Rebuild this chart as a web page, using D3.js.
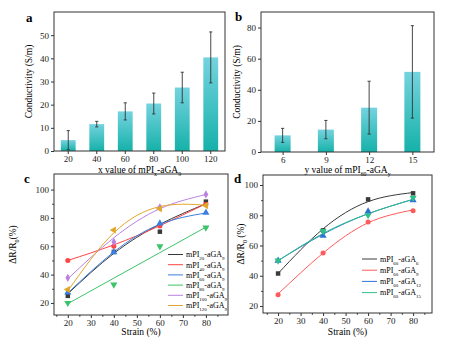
<!DOCTYPE html>
<html>
<head>
<meta charset="utf-8">
<script src="https://cdn.jsdelivr.net/npm/d3@7"></script>
<style>
  body { margin: 0; background: #fff; }
  svg { display: block; font-family: "Liberation Serif", "DejaVu Serif", serif; }
</style>
</head>
<body>
<div id="chart"></div>
<script>
var width = 449
var height = 344

// panel a : conductivity vs x
var aCats = ["20", "40", "60", "80", "100", "120"]
var aVals = [4.7, 11.6, 17.1, 20.5, 27.4, 40.4]
var aErr = [4.1, 1.2, 3.7, 4.5, 6.6, 11.0]

// panel b : conductivity vs y
var bCats = [6, 9, 12, 15]
var bVals = [10.7, 14.4, 28.5, 51.5]
var bErr = [4.5, 5.9, 17.0, 29.7]

// panel c : strain response, mPIx-aGA9
var strain = [20, 40, 60, 80]
var cNames = ["20", "40", "60", "80", "100", "120"]
var cPoints = [
  [25, 56, 70.3, 91.5],
  [50, 60, 74.3, 89.5],
  [27.5, 55.8, 76.1, 83.7],
  [20, 33, 60, 73.2],
  [37.7, 63, 87.5, 96.6],
  [29.5, 71.4, 86.5, 88.7]
]
// fitted curves at the same strains
var cFits = [
  [26.5, 55, 75.5, 90],
  [50, 61, 74.5, 90],
  [27, 56, 75.5, 83.5],
  [19.5, 37.5, 55.5, 73.5],
  [37, 66, 86.5, 96.5],
  [28.5, 69.5, 88, 89]
]

// panel d : strain response, mPI60-aGAy
var dNames = ["6", "9", "12", "15"]
var dPoints = [
  [41.5, 70, 90.5, 94.5],
  [27.5, 55, 75.5, 83],
  [50, 66.5, 82.5, 90],
  [50, 69.5, 80, 91.5]
]
var dFits = [
  [41.5, 71, 89, 95],
  [28, 55, 75, 83.5],
  [50, 67.5, 81, 90.5],
  [50, 68, 81, 90.5]
]

var cColors = ["#3a3a3a", "#ff4444", "#3b7fe0", "#3cc46a", "#bb82e0", "#e2a72a"]
var dColors = ["#3a3a3a", "#ff5a5a", "#2f72d6", "#2fc08a"]

var svg = d3.select("#chart").append("svg")
  .attr("width", width)
  .attr("height", height)

var defs = svg.append("defs")
var grad = defs.append("linearGradient")
  .attr("id", "barGrad")
  .attr("x1", 0).attr("y1", 0).attr("x2", 0).attr("y2", 1)
grad.append("stop").attr("offset", "0%").attr("stop-color", "#74d3df")
grad.append("stop").attr("offset", "100%").attr("stop-color", "#16b1a9")

var axisColor = "#333"

// text with subscripts: parts = [[text, isSub], ...]
function richText(sel, parts, size) {
  parts.forEach(function(p) {
    var t = sel.append("tspan").text(p[0])
    if (p[1]) t.attr("font-size", size * 0.62).attr("baseline-shift", "sub")
  })
  return sel
}

function frame(g, x0, x1, y0, y1) {
  g.append("rect")
    .attr("x", x0).attr("y", y0)
    .attr("width", x1 - x0).attr("height", y1 - y0)
    .attr("fill", "none")
    .attr("stroke", axisColor)
    .attr("stroke-width", 1)
}

function styleAxis(ax) {
  ax.select(".domain").remove()
  ax.selectAll("line").attr("stroke", axisColor)
  ax.selectAll("text").attr("font-family", "Liberation Serif").attr("font-size", 9).attr("fill", "#222")
}

function minorAxis(g, axis) {
  var m = g.append("g").call(axis)
  m.select(".domain").remove()
  m.selectAll("text").remove()
  m.selectAll("line").attr("stroke", axisColor)
}

function letter(x, y, s) {
  svg.append("text").attr("x", x).attr("y", y)
    .attr("font-size", 13).attr("font-weight", "bold").text(s)
}

// ---------- panel a ----------
;(function() {
  var x0 = 54, x1 = 225, y0 = 12, y1 = 151
  var g = svg.append("g")
  var xScale = d3.scaleBand().domain(aCats).range([x0, x1]).paddingInner(0.48).paddingOuter(0.24)
  var yScale = d3.scaleLinear().domain([0, 60]).range([y1, y0])

  g.selectAll(".bar").data(aVals).enter().append("rect")
    .attr("x", (d, i) => xScale(aCats[i]))
    .attr("y", d => yScale(d))
    .attr("width", xScale.bandwidth())
    .attr("height", d => yScale(0) - yScale(d))
    .attr("fill", "url(#barGrad)")

  var eb = g.selectAll(".err").data(aVals).enter().append("g")
  eb.append("line")
    .attr("x1", (d, i) => xScale(aCats[i]) + xScale.bandwidth() / 2)
    .attr("x2", (d, i) => xScale(aCats[i]) + xScale.bandwidth() / 2)
    .attr("y1", (d, i) => yScale(d + aErr[i]))
    .attr("y2", (d, i) => yScale(Math.max(0, d - aErr[i])))
    .attr("stroke", "#333").attr("stroke-width", 0.9)
  ;[1, -1].forEach(function(s) {
    eb.append("line")
      .attr("x1", (d, i) => xScale(aCats[i]) + xScale.bandwidth() / 2 - 1.6)
      .attr("x2", (d, i) => xScale(aCats[i]) + xScale.bandwidth() / 2 + 1.6)
      .attr("y1", (d, i) => yScale(Math.max(0, d + s * aErr[i])))
      .attr("y2", (d, i) => yScale(Math.max(0, d + s * aErr[i])))
      .attr("stroke", "#333").attr("stroke-width", 0.9)
  })

  frame(g, x0, x1, y0, y1)
  styleAxis(g.append("g").attr("transform", `translate(${x0},0)`)
    .call(d3.axisLeft(yScale).tickValues([0, 10, 20, 30, 40, 50]).tickSize(3).tickPadding(2)))
  styleAxis(g.append("g").attr("transform", `translate(0,${y1})`)
    .call(d3.axisBottom(xScale).tickSize(3).tickPadding(1.5)))

  g.append("text")
    .attr("transform", `translate(32,${(y0 + y1) / 2}) rotate(-90)`)
    .attr("text-anchor", "middle").attr("font-size", 9.5)
    .text("Conductivity (S/m)")
  richText(g.append("text").attr("x", (x0 + x1) / 2).attr("y", 172.5)
    .attr("text-anchor", "middle").attr("font-size", 9.5),
    [["x value of mPI", false], ["x", true], ["-aGA", false], ["9", true]], 9.5)
  letter(26, 22, "a")
})()

// ---------- panel b ----------
;(function() {
  var x0 = 261, x1 = 434, y0 = 12, y1 = 152
  var g = svg.append("g")
  var xScale = d3.scaleLinear().domain([4.5, 16.5]).range([x0, x1])
  var yScale = d3.scaleLinear().domain([0, 90]).range([y1, y0])
  var bw = 16

  g.selectAll(".bar").data(bVals).enter().append("rect")
    .attr("x", (d, i) => xScale(bCats[i]) - bw / 2)
    .attr("y", d => yScale(d))
    .attr("width", bw)
    .attr("height", d => yScale(0) - yScale(d))
    .attr("fill", "url(#barGrad)")

  var eb = g.selectAll(".err").data(bVals).enter().append("g")
  eb.append("line")
    .attr("x1", (d, i) => xScale(bCats[i]))
    .attr("x2", (d, i) => xScale(bCats[i]))
    .attr("y1", (d, i) => yScale(d + bErr[i]))
    .attr("y2", (d, i) => yScale(d - bErr[i]))
    .attr("stroke", "#333").attr("stroke-width", 0.9)
  ;[1, -1].forEach(function(s) {
    eb.append("line")
      .attr("x1", (d, i) => xScale(bCats[i]) - 1.6)
      .attr("x2", (d, i) => xScale(bCats[i]) + 1.6)
      .attr("y1", (d, i) => yScale(d + s * bErr[i]))
      .attr("y2", (d, i) => yScale(d + s * bErr[i]))
      .attr("stroke", "#333").attr("stroke-width", 0.9)
  })

  frame(g, x0, x1, y0, y1)
  styleAxis(g.append("g").attr("transform", `translate(${x0},0)`)
    .call(d3.axisLeft(yScale).tickValues([0, 20, 40, 60, 80]).tickSize(3).tickPadding(2)))
  styleAxis(g.append("g").attr("transform", `translate(0,${y1})`)
    .call(d3.axisBottom(xScale).tickValues(bCats).tickSize(3).tickPadding(1.5)))

  g.append("text")
    .attr("transform", `translate(240,${(y0 + y1) / 2}) rotate(-90)`)
    .attr("text-anchor", "middle").attr("font-size", 9.5)
    .text("Conductivity (S/m)")
  richText(g.append("text").attr("x", (x0 + x1) / 2).attr("y", 172.5)
    .attr("text-anchor", "middle").attr("font-size", 9.5),
    [["y value of mPI", false], ["60", true], ["-aGA", false], ["y", true]], 9.5)
  letter(235, 21, "b")
})()

var symbols = [
  { type: d3.symbolSquare, rot: 0 },
  { type: d3.symbolCircle, rot: 0 },
  { type: d3.symbolTriangle, rot: 0 },
  { type: d3.symbolTriangle, rot: 180 },
  { type: d3.symbolDiamond, rot: 0 },
  { type: d3.symbolTriangle, rot: -90 }
]

function strainPanel(opt) {
  var g = svg.append("g")
  var xScale = d3.scaleLinear().domain(opt.xd).range([opt.x0, opt.x1])
  var yScale = d3.scaleLinear().domain(opt.yd).range([opt.y1, opt.y0])
  var line = d3.line().x((d, i) => xScale(strain[i])).y(d => yScale(d)).curve(d3.curveNatural)

  opt.fits.forEach(function(f, k) {
    g.append("path").attr("d", line(f))
      .attr("fill", "none").attr("stroke", opt.colors[k]).attr("stroke-width", 1)
  })
  opt.points.forEach(function(p, k) {
    var sym = symbols[k]
    g.selectAll(".pt" + k).data(p).enter().append("path")
      .attr("d", d3.symbol().type(sym.type).size(sym.type === d3.symbolTriangle ? 22 : 20))
      .attr("transform", (d, i) => `translate(${xScale(strain[i])},${yScale(d)}) rotate(${sym.rot})`)
      .attr("fill", opt.colors[k])
  })

  frame(g, opt.x0, opt.x1, opt.y0, opt.y1)
  styleAxis(g.append("g").attr("transform", `translate(${opt.x0},0)`)
    .call(d3.axisLeft(yScale).tickValues([20, 40, 60, 80, 100]).tickSize(3).tickPadding(2)))
  minorAxis(g.append("g").attr("transform", `translate(${opt.x0},0)`),
    d3.axisLeft(yScale).tickValues([30, 50, 70, 90]).tickSize(1.8))
  styleAxis(g.append("g").attr("transform", `translate(0,${opt.y1})`)
    .call(d3.axisBottom(xScale).tickValues([20, 30, 40, 50, 60, 70, 80]).tickSize(3).tickPadding(1.5)))
  minorAxis(g.append("g").attr("transform", `translate(0,${opt.y1})`),
    d3.axisBottom(xScale).tickValues([15, 25, 35, 45, 55, 65, 75, 85]).tickSize(1.8))

  g.append("text").attr("x", (opt.x0 + opt.x1) / 2).attr("y", 335)
    .attr("text-anchor", "middle").attr("font-size", 9.5).text("Strain (%)")
  richText(g.append("text")
    .attr("transform", `translate(${opt.ylabX},${(opt.y0 + opt.y1) / 2}) rotate(-90)`)
    .attr("text-anchor", "middle").attr("font-size", 9.5),
    [["ΔR/R", false], ["0", true], [opt.ylabSuffix, false]], 9.5)

  opt.names.forEach(function(n, k) {
    var ly = opt.ly + k * opt.lstep
    g.append("line").attr("x1", opt.lx).attr("x2", opt.lx + 15)
      .attr("y1", ly).attr("y2", ly)
      .attr("stroke", opt.colors[k]).attr("stroke-width", 1)
    richText(g.append("text").attr("x", opt.lx + 18).attr("y", ly + 2.8).attr("font-size", 8),
      opt.label(n), 8)
  })
  letter(opt.letterX, opt.letterY, opt.letter)
}

strainPanel({
  x0: 54, x1: 228, y0: 174, y1: 315,
  xd: [14, 89.6], yd: [11.5, 111],
  fits: cFits, points: cPoints, colors: cColors, names: cNames,
  label: n => [["mPI", false], [n, true], ["-aGA", false], ["9", true]],
  lx: 168, ly: 254.5, lstep: 10.2,
  ylabX: 16, ylabSuffix: "(%)",
  letter: "c", letterX: 24, letterY: 183
})

strainPanel({
  x0: 263, x1: 432, y0: 175, y1: 313,
  xd: [13.3, 88.4], yd: [15.4, 106.6],
  fits: dFits, points: dPoints, colors: dColors, names: dNames,
  label: n => [["mPI", false], ["60", true], ["-aGA", false], [n, true]],
  lx: 362, ly: 259, lstep: 11.2,
  ylabX: 244, ylabSuffix: " (%)",
  letter: "d", letterX: 234, letterY: 183
})
</script>
</body>
</html>
